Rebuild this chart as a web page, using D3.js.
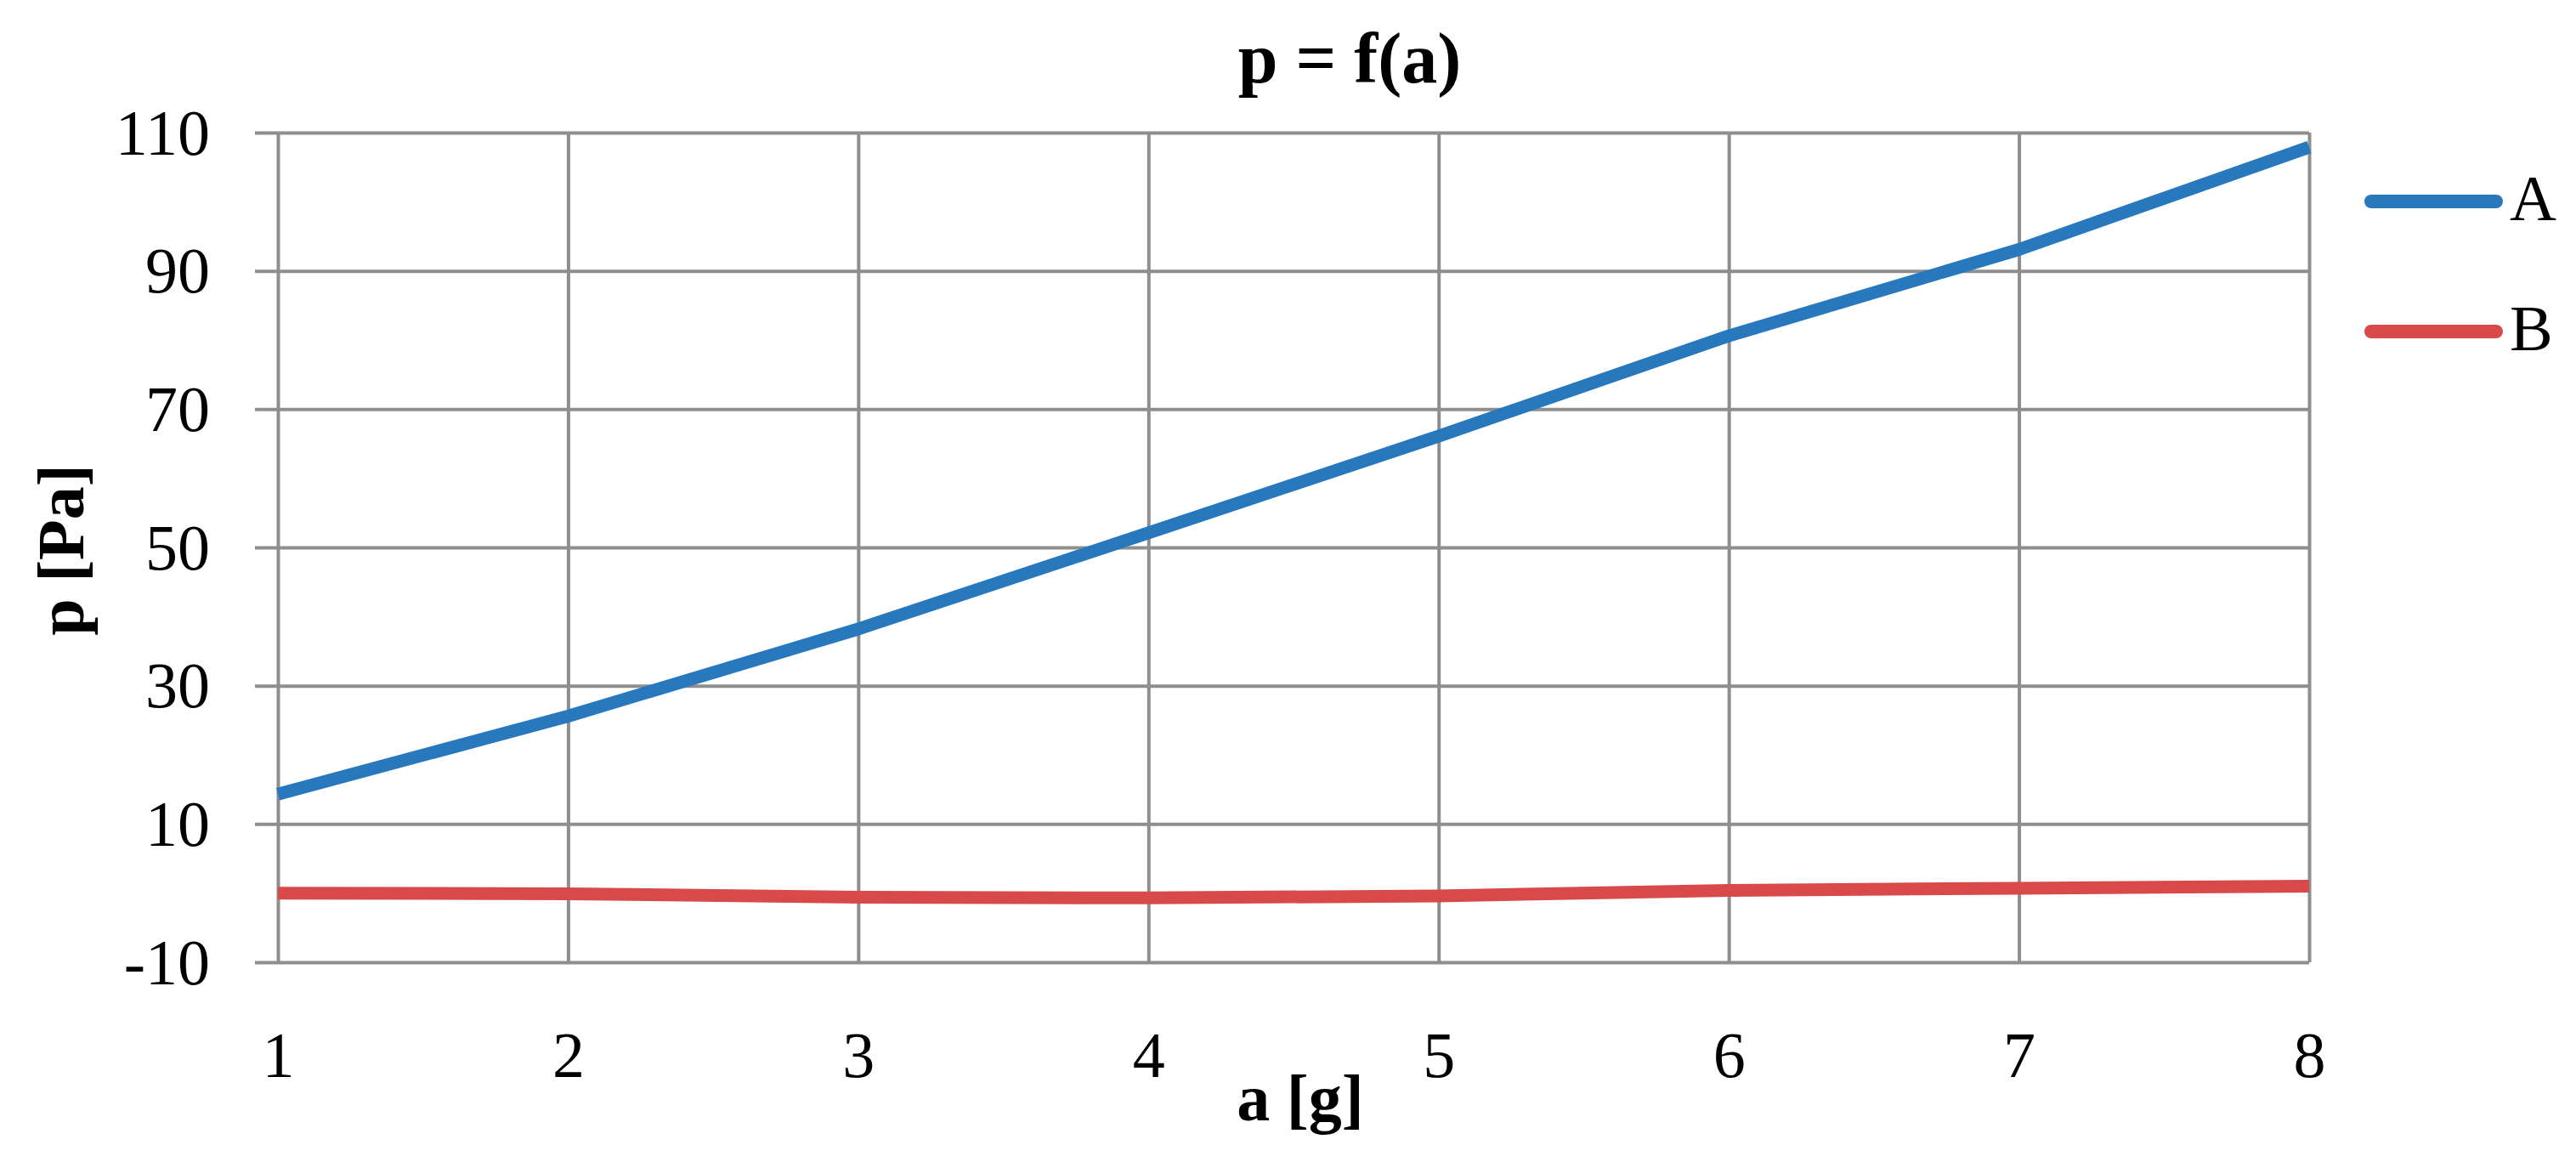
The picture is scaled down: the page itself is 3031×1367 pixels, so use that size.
<!DOCTYPE html>
<html>
<head>
<meta charset="utf-8">
<script src="https://cdn.jsdelivr.net/npm/d3@7"></script>
<style>
  html, body { margin: 0; padding: 0; background: #ffffff; }
  svg { display: block; }
</style>
</head>
<body>
<svg id="chart" width="3031" height="1367"></svg>
<script>
// ---- data ----
const categories = [1, 2, 3, 4, 5, 6, 7, 8];
const seriesA = [14.3, 25.6, 38.2, 52.1, 66.1, 80.6, 93.1, 107.9];
const seriesB = [0.0, -0.1, -0.6, -0.7, -0.4, 0.4, 0.7, 1.0];
const seriesNames = ["A", "B"];
const yTicks = [-10, 10, 30, 50, 70, 90, 110];
const yTickLabels = ["-10", "10", "30", "50", "70", "90", "110"];
const xTicks = [1, 2, 3, 4, 5, 6, 7, 8];
const xTickLabels = ["1", "2", "3", "4", "5", "6", "7", "8"];
const titleText = "p = f(a)";
const xTitle = "a [g]";
const yTitle = "p [Pa]";

// ---- layout ----
const W = 3031, H = 1367;
const m = { left: 327, right: W - 2717, top: 156, bottom: H - 1132 };
const colors = ["#2878BE", "#D84A4A"];
const font = "'Liberation Serif', 'Times New Roman', serif";
const gridColor = "#8E8E8E";

const svg = d3.select("#chart");
const x = d3.scaleLinear().domain([1, 8]).range([m.left, W - m.right]);
const y = d3.scaleLinear().domain([-10, 110]).range([H - m.bottom, m.top]);

// horizontal gridlines + tick stubs (extend left of axis)
const yAxis = d3.axisLeft(y).tickValues(yTicks)
  .tickFormat((d, i) => yTickLabels[i])
  .tickSize(-(W - m.left - m.right)).tickSizeOuter(0).tickPadding(0);
const gy = svg.append("g").attr("transform", `translate(${m.left},0)`).call(yAxis);
gy.select(".domain").remove();
gy.selectAll(".tick line")
  .attr("x1", -27)
  .attr("stroke", gridColor).attr("stroke-width", 4);
gy.selectAll(".tick text")
  .attr("x", -80)
  .attr("dy", "0.33em")
  .attr("text-anchor", "end")
  .style("font-family", font).style("font-size", "76px").attr("fill", "#000");

// vertical gridlines
const xAxis = d3.axisBottom(x).tickValues(xTicks)
  .tickFormat((d, i) => xTickLabels[i])
  .tickSize(-(H - m.top - m.bottom)).tickSizeOuter(0).tickPadding(0);
const gx = svg.append("g").attr("transform", `translate(0,${H - m.bottom})`).call(xAxis);
gx.select(".domain").remove();
gx.selectAll(".tick line").attr("stroke", gridColor).attr("stroke-width", 4);
gx.selectAll(".tick text")
  .attr("y", 135)
  .attr("dy", 0)
  .style("font-family", font).style("font-size", "76px").attr("fill", "#000");

// lines
const line = d3.line().x((d, i) => x(categories[i])).y(d => y(d)).curve(d3.curveLinear);
[seriesA, seriesB].forEach((s, i) => {
  svg.append("path")
    .datum(s)
    .attr("d", line)
    .attr("fill", "none")
    .attr("stroke", colors[i])
    .attr("stroke-width", 15)
    .attr("stroke-linejoin", "round")
    .attr("stroke-linecap", "butt");
});

// title
svg.append("text")
  .attr("x", 1588).attr("y", 97)
  .attr("text-anchor", "middle")
  .style("font-family", font).style("font-size", "84px").style("font-weight", "bold")
  .text(titleText);

// axis titles
svg.append("text")
  .attr("x", 1530).attr("y", 1318)
  .attr("text-anchor", "middle")
  .style("font-family", font).style("font-size", "78px").style("font-weight", "bold")
  .text(xTitle);

svg.append("text")
  .attr("transform", `translate(98,647) rotate(-90)`)
  .attr("text-anchor", "middle")
  .style("font-family", font).style("font-size", "78px").style("font-weight", "bold")
  .text(yTitle);

// legend
const legY = [237, 390];
seriesNames.forEach((name, i) => {
  svg.append("line")
    .attr("x1", 2790).attr("x2", 2937)
    .attr("y1", legY[i]).attr("y2", legY[i])
    .attr("stroke", colors[i]).attr("stroke-width", 16)
    .attr("stroke-linecap", "round");
  svg.append("text")
    .attr("x", 2953).attr("y", legY[i] + 22)
    .style("font-family", font).style("font-size", "76px")
    .text(name);
});
</script>
</body>
</html>
